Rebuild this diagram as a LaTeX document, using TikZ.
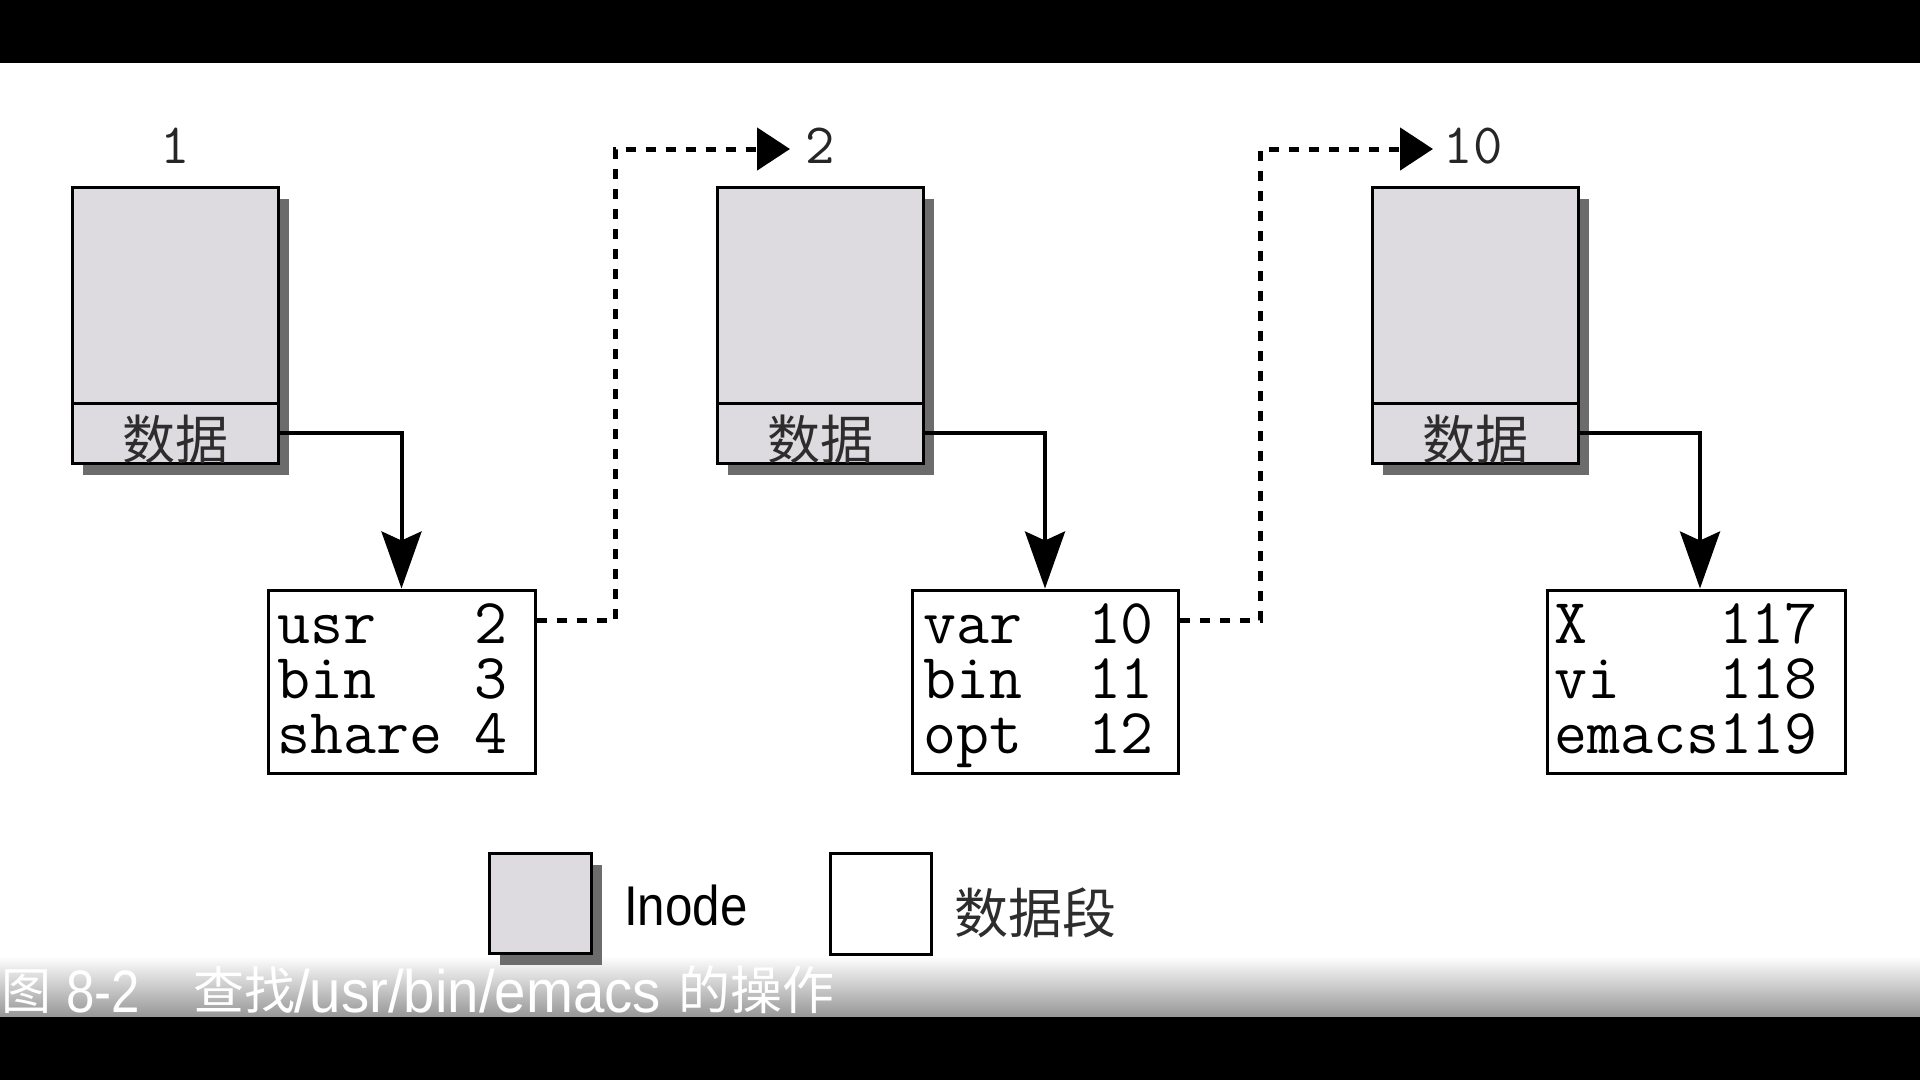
\documentclass[tikz,border=0pt]{standalone}
\usepackage{fontspec}
\usepackage{graphicx}
\newfontfamily\cjkfont{Noto Sans CJK SC}
\newfontfamily\lsans{Liberation Sans}
\usetikzlibrary{arrows.meta,shadows}
\definecolor{inodefill}{RGB}{221,219,224}
\definecolor{shadowgray}{RGB}{108,108,108}
\definecolor{bandgray}{RGB}{150,150,150}
\definecolor{cjkgray}{RGB}{45,45,45}
\begin{document}
\begin{tikzpicture}[x=1pt,y=-1pt,
  inodebox/.style={draw=black, line width=3pt, fill=inodefill, inner sep=0pt,
    minimum width=206pt, minimum height=276pt,
    drop shadow={shadow xshift=11pt, shadow yshift=-12pt, fill=shadowgray, opacity=1}},
  datasec/.style={draw=black, line width=3pt, fill=inodefill, inner sep=0pt,
    minimum width=206pt, minimum height=60pt},
  databox/.style={draw=black, line width=3pt, fill=white, inner sep=0pt, minimum height=183pt},
  tabletext/.style={font=\ttfamily\fontsize{64}{55}\selectfont, inner sep=0pt, align=left, anchor=north west},
  numlabel/.style={font=\ttfamily\fontsize{57}{57}\selectfont, text=black!85, inner sep=0pt, anchor=base},
  cjklabel/.style={font=\cjkfont\fontsize{53}{53}\selectfont, text=cjkgray, inner sep=0pt},
  solidarrow/.style={draw=black, line width=4pt, -{Stealth[length=57pt, width=40pt, inset=9pt]}},
  dotarrow/.style={draw=black, line width=5pt, dash pattern=on 10pt off 10pt, -{Triangle[length=33pt, width=42pt]}},
  captext/.style={text=white, inner sep=0pt, anchor=base west}
]
\useasboundingbox (0,0) rectangle (1920,1080);
% background
\fill[white] (0,0) rectangle (1920,1080);
\fill[black] (0,0) rectangle (1920,63);
\shade[top color=white, bottom color=bandgray] (0,956) rectangle (1920,1017);
\fill[black] (0,1017) rectangle (1920,1080);

% inodes
\node[inodebox] (in1) at (175,325) {};
\node[datasec] (d1) at (175,433) {};
\node[cjklabel] (lb1) at (175,439) {数据};
\node[numlabel] (lab1) at (175,163) {1};

\node[inodebox] (in2) at (820,325) {};
\node[datasec] (d2) at (820,433) {};
\node[cjklabel] (lb2) at (820,439) {数据};
\node[numlabel] (lab2) at (820,163) {2};

\node[inodebox] (in3) at (1475,325) {};
\node[datasec] (d3) at (1475,433) {};
\node[cjklabel] (lb3) at (1475,439) {数据};
\node[numlabel] (lab3) at (1473,163) {10};

% data blocks
\node[databox, minimum width=267pt] (b1) at (401.5,681.5) {};
\node[tabletext] (t1) at (277,603) {usr~~~2\\bin~~~3\\share~4};

\node[databox, minimum width=266pt] (b2) at (1045,681.5) {};
\node[tabletext] (t2) at (923,603) {var~~10\\bin~~11\\opt~~12};

\node[databox, minimum width=298pt] (b3) at (1696,681.5) {};
\node[tabletext] (t3) at (1554,603) {X~~~~117\\vi~~~118\\emacs119};

% solid connectors
\draw[solidarrow] (d1.east) -| (b1.north);
\draw[solidarrow] (d2.east) -| (b2.north);
\draw[solidarrow] (d3.east) -| ([xshift=4pt]b3.north);

% dotted connectors
\coordinate (dy) at (0,620);
\coordinate (c1) at (615,149);
\coordinate (tip2) at (790,149);
\coordinate (c2) at (1260,149);
\coordinate (tip3) at (1433,149);
\draw[dotarrow] (b1.east |- dy) -| (c1) -- (tip2);
\draw[dotarrow] (b2.east |- dy) -| (c2) -- (tip3);

% legend
\node[inodebox, minimum width=102pt, minimum height=100pt] (lg1) at (540,903) {};
\node[captext, text=black] (lt1) at (624,925) {\lsans\fontsize{56}{56}\selectfont\scalebox{0.88}[1]{Inode}};
\node[databox, minimum width=101pt, minimum height=101pt] (lg2) at (881,904) {};
\node[cjklabel, font=\cjkfont\fontsize{54}{54}\selectfont] (lt2) at (1035,913) {数据段};

% caption
\node[captext, font=\cjkfont\fontsize{50}{50}\selectfont] (cap1) at (1,1009) {图};
\node[captext, font=\lsans\fontsize{60}{60}\selectfont] (cap2) at (66,1012) {\scalebox{0.85}[1]{8-2}};
\node[captext, font=\cjkfont\fontsize{51}{51}\selectfont] (cap3) at (193,1009) {查找};
\node[captext, font=\lsans\fontsize{60}{60}\selectfont] (cap4) at (294,1012) {\scalebox{0.94}[1]{/usr/bin/emacs}};
\node[captext, font=\cjkfont\fontsize{52}{52}\selectfont] (cap5) at (678,1009) {的操作};
\end{tikzpicture}
\end{document}
